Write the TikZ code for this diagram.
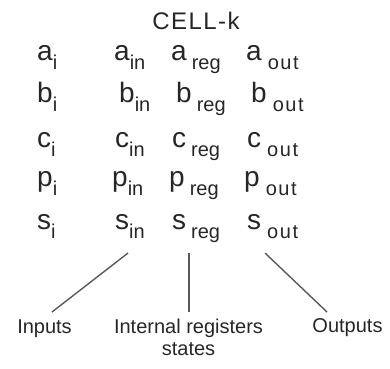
\documentclass[tikz,border=0pt]{standalone}
\usepackage{fontspec}
\setmainfont{Liberation Sans}
\usepackage{tikz}

\newcommand{\lowsub}[1]{\raisebox{-9pt}{\fontsize{20}{20}\selectfont #1}}
\newcommand{\widesub}[1]{\raisebox{-9pt}{\fontsize{20}{20}\selectfont\addfontfeatures{LetterSpace=8}#1}}

\begin{document}
\begin{tikzpicture}[x=1pt, y=-1pt,
        entry/.style={anchor=base west, inner sep=0pt, text=black!85, font=\fontsize{28}{28}\selectfont},
        notetext/.style={anchor=base, inner sep=0pt, align=center, text=black!85, font=\fontsize{20}{22}\selectfont},
        conn/.style={draw=black!65, line width=1.4pt}]
        \useasboundingbox (0, 0) rectangle (390, 368);
        \node[anchor=base, inner sep=0pt, text=black!85, font=\fontsize{24}{24}\selectfont\addfontfeatures{LetterSpace=6}] (title) at (196, 29) {CELL-k};

        \foreach \sym/\y/\dx in {a/60/0, b/102/5, c/147/1, p/186/-2, s/229/1} {
            \node[entry] (\sym-i) at (37, \y) {\sym\lowsub{i}};
            \node[entry] (\sym-in) at (114+\dx, \y) {\sym\lowsub{in}};
            \node[entry] (\sym-reg) at (171+\dx, \y) {\sym\hspace{5pt}\lowsub{reg}};
            \node[entry] (\sym-out) at (246+\dx, \y) {\sym\hspace{6pt}\widesub{out}};
        }

        \node[notetext] (inputs) at (44.5, 333) {Inputs};
        \node[notetext] (registers) at (188.5, 355) {Internal registers\\states};
        \node[notetext] (outputs) at (347.5, 332) {Outputs};

        \coordinate (in-top) at (128, 253);
        \coordinate (in-end) at (52, 312);
        \coordinate (reg-top) at (189, 253);
        \coordinate (reg-end) at (189, 312);
        \coordinate (out-top) at (265, 253);
        \coordinate (out-end) at (327, 312);
        \draw[conn] (in-top) -- (in-end);
        \draw[conn] (reg-top) -- (reg-end);
        \draw[conn] (out-top) -- (out-end);
    \end{tikzpicture}
\end{document}
